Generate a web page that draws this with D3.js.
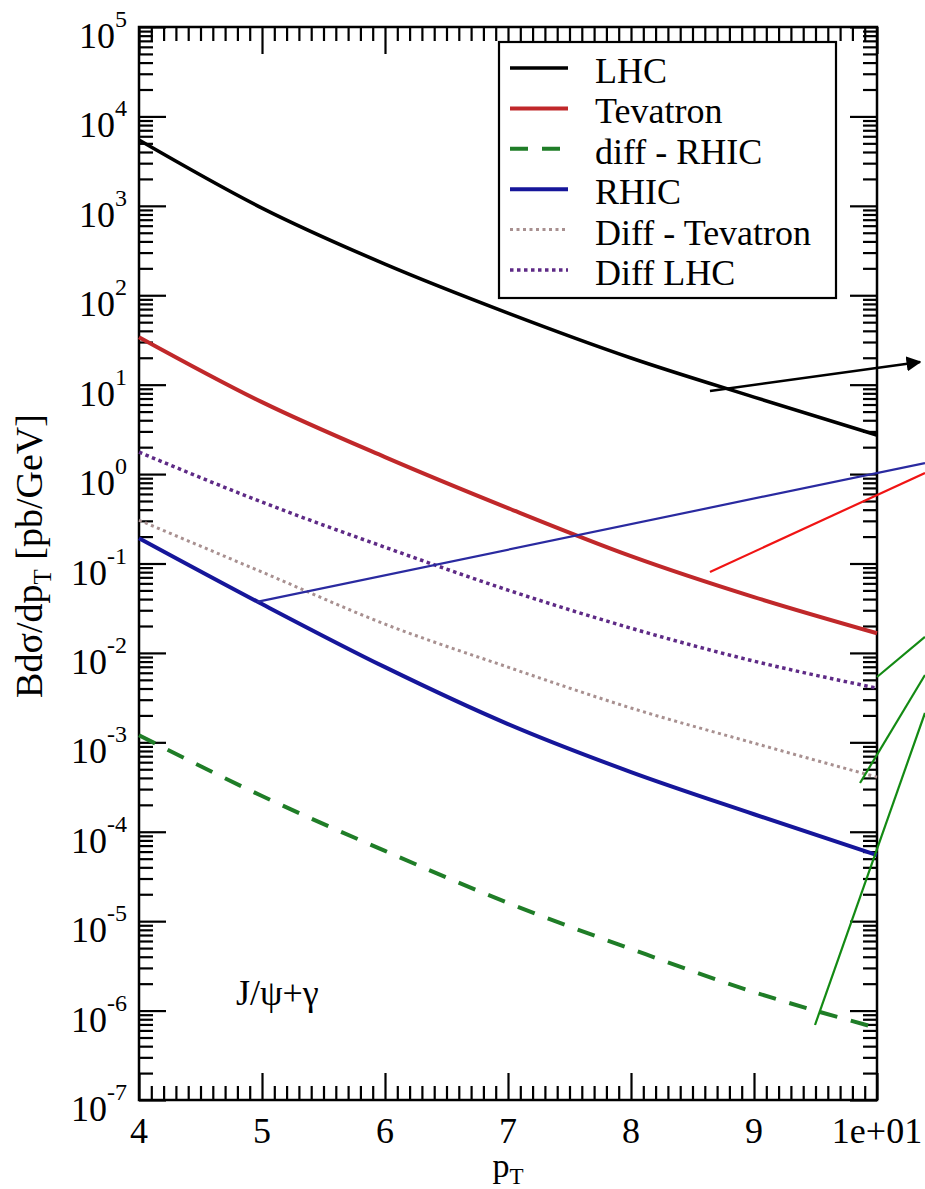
<!DOCTYPE html>
<html><head><meta charset="utf-8">
<script src="https://cdn.jsdelivr.net/npm/d3@7/dist/d3.min.js"></script>
<style>
html,body{margin:0;padding:0;background:#fff;}
</style></head>
<body>
<svg id="chart" width="925" height="1189"></svg>
<script>
// ---- data ----
const pT = [4, 5, 6, 7, 8, 9, 10];
const lhc      = [5445, 944, 223, 63.2, 19.9, 7.26, 2.73];
const tevatron = [34.0, 6.38, 1.55, 0.417, 0.121, 0.0421, 0.0166];
const diffRhic = [1.20e-3, 2.51e-4, 6.10e-5, 1.60e-5, 4.89e-6, 1.61e-6, 6.40e-7];
const rhic     = [0.192, 0.0352, 0.00693, 0.0016, 4.65e-4, 1.57e-4, 5.47e-5];
const diffTev  = [0.305, 0.0802, 0.0210, 0.00693, 0.00242, 9.8e-4, 4.08e-4];
const diffLhc  = [1.76, 0.486, 0.152, 0.0504, 0.0189, 0.00809, 0.00404];

const seriesNames = ["LHC", "Tevatron", "diff - RHIC", "RHIC", "Diff - Tevatron", "Diff LHC"];
const xTickValues = [4, 5, 6, 7, 8, 9, 10];
const xTickLabels = ["4", "5", "6", "7", "8", "9", "1e+01"];
const yExponents = [-7, -6, -5, -4, -3, -2, -1, 0, 1, 2, 3, 4, 5];

// annotation strokes drawn over the figure, in data coordinates [pT, value]
const arrowLine = [[8.642, 8.49], [10.35, 17.9]];
const blueLine  = [[4.959, 0.0372], [10.39, 1.33]];
const redLine   = [[8.642, 0.0803], [10.39, 1.03]];
const greenLines = [
  [[10.0, 0.00538], [10.39, 0.0151]],
  [[9.862, 3.51e-4], [10.39, 5.66e-3]],
  [[9.496, 6.9e-7], [10.39, 2.13e-3]]
];

// ---- styles ----
const FONT = '"Liberation Serif", "Times New Roman", Times, serif';
const styles = [
  {data: lhc,      color: "#000000", width: 3.6, dash: null},
  {data: tevatron, color: "#c0282a", width: 4,   dash: null},
  {data: diffRhic, color: "#1f7d27", width: 4,   dash: "18,14"},
  {data: rhic,     color: "#16169a", width: 4,   dash: null},
  {data: diffTev,  color: "#a89090", width: 3,   dash: "3,3.5"},
  {data: diffLhc,  color: "#5e2a86", width: 3.5, dash: "3.5,3.5"}
];

const svg = d3.select("#chart");
const L = 139, R = 877, T = 27, B = 1100;
const x = d3.scaleLinear().domain([4, 10]).range([L, R]);
const y = d3.scaleLog().domain([1e-7, 1e5]).range([B, T]);

const MAJ = 27, MIN = 14;
const xMinor = d3.range(40, 101).map(v => v / 10).filter(v => Math.abs(v - Math.round(v)) > 1e-9);
const yMinor = [];
yExponents.slice(0, -1).forEach(e => { for (let k = 2; k <= 9; k++) yMinor.push(k * Math.pow(10, e)); });
const yMajor = yExponents.map(e => Math.pow(10, e));

function axisStyle(g) {
  g.select(".domain").remove();
  g.selectAll("line").attr("stroke", "#000").attr("stroke-width", 2.2);
  g.selectAll("text").remove();
}
svg.append("g").attr("transform", `translate(0,${B})`).call(d3.axisBottom(x).tickValues(xTickValues).tickSize(-MAJ).tickFormat("")).call(axisStyle);
svg.append("g").attr("transform", `translate(0,${B})`).call(d3.axisBottom(x).tickValues(xMinor).tickSize(-MIN).tickFormat("")).call(axisStyle);
svg.append("g").attr("transform", `translate(0,${T})`).call(d3.axisTop(x).tickValues(xTickValues).tickSize(-MAJ).tickFormat("")).call(axisStyle);
svg.append("g").attr("transform", `translate(0,${T})`).call(d3.axisTop(x).tickValues(xMinor).tickSize(-MIN).tickFormat("")).call(axisStyle);
svg.append("g").attr("transform", `translate(${L},0)`).call(d3.axisLeft(y).tickValues(yMajor).tickSize(-MAJ).tickFormat("")).call(axisStyle);
svg.append("g").attr("transform", `translate(${L},0)`).call(d3.axisLeft(y).tickValues(yMinor).tickSize(-MIN).tickFormat("")).call(axisStyle);
svg.append("g").attr("transform", `translate(${R},0)`).call(d3.axisRight(y).tickValues(yMajor).tickSize(-MAJ).tickFormat("")).call(axisStyle);
svg.append("g").attr("transform", `translate(${R},0)`).call(d3.axisRight(y).tickValues(yMinor).tickSize(-MIN).tickFormat("")).call(axisStyle);

svg.append("rect").attr("x", L).attr("y", T).attr("width", R - L).attr("height", B - T)
  .attr("fill", "none").attr("stroke", "#000").attr("stroke-width", 2.5);

// x tick labels
svg.append("g").selectAll("text").data(xTickValues).join("text")
  .attr("x", d => x(d)).attr("y", B + 43)
  .attr("text-anchor", "middle").style("font-family", FONT).style("font-size", "36px")
  .text((d, i) => xTickLabels[i]);

// y tick labels 10^e
const yl = svg.append("g").selectAll("text").data(yExponents).join("text")
  .attr("x", L - 12).attr("y", d => y(Math.pow(10, d)) + 21)
  .attr("text-anchor", "end").style("font-family", FONT).style("font-size", "36px");
yl.append("tspan").text("10");
yl.append("tspan").style("font-size", "24px").attr("dy", -21).text(d => String(d));

// axis titles
const xt = svg.append("text").attr("x", (L + R) / 2).attr("y", 1177).attr("text-anchor", "middle")
  .style("font-family", FONT).style("font-size", "34px");
xt.append("tspan").text("p");
xt.append("tspan").style("font-size", "23px").attr("dy", 7).text("T");

const yt = svg.append("text").attr("transform", `translate(42,556) rotate(-90)`).attr("text-anchor", "middle")
  .style("font-family", FONT).style("font-size", "38px");
yt.append("tspan").text("Bdσ/dp");
yt.append("tspan").style("font-size", "25px").attr("dy", 9).text("T");
yt.append("tspan").attr("dy", -9).text(" [pb/GeV]");

// curves
const line = d3.line().x((d, i) => x(pT[i])).y(d => y(d)).curve(d3.curveMonotoneX);
svg.append("g").selectAll("path").data(styles).join("path")
  .attr("d", s => line(s.data))
  .attr("fill", "none").attr("stroke", s => s.color).attr("stroke-width", s => s.width)
  .attr("stroke-dasharray", s => s.dash).attr("stroke-linejoin", "round");

// legend
const lg = svg.append("g");
lg.append("rect").attr("x", 499).attr("y", 42).attr("width", 337).attr("height", 256)
  .attr("fill", "#fff").attr("stroke", "#000").attr("stroke-width", 2.2);
const rows = lg.selectAll("g").data(styles).join("g")
  .attr("transform", (d, i) => `translate(0,${68 + i * 40.4})`);
rows.append("line").attr("x1", 510).attr("x2", 568).attr("y1", 0).attr("y2", 0)
  .attr("stroke", s => s.color).attr("stroke-width", s => s.width).attr("stroke-dasharray", s => s.dash);
rows.append("text").attr("x", 595).attr("y", 15).style("font-family", FONT).style("font-size", "36px")
  .text((d, i) => seriesNames[i]);

// J/psi label
svg.append("text").attr("x", 236).attr("y", 1005).style("font-family", FONT).style("font-size", "36px").text("J/ψ+γ");

// annotation strokes
const seg = d3.line().x(d => x(d[0])).y(d => y(d[1]));
svg.append("defs").append("marker").attr("id", "arr").attr("viewBox", "0 0 10 10")
  .attr("refX", 9).attr("refY", 5).attr("markerWidth", 6).attr("markerHeight", 6)
  .attr("markerUnits", "strokeWidth").attr("orient", "auto")
  .append("path").attr("d", "M0,0 L10,5 L0,10 z").attr("fill", "#000");
svg.append("path").attr("d", seg(arrowLine)).attr("stroke", "#000").attr("stroke-width", 2.5)
  .attr("fill", "none").attr("marker-end", "url(#arr)");
svg.append("path").attr("d", seg(blueLine)).attr("stroke", "#2a2aa0").attr("stroke-width", 2.2).attr("fill", "none");
svg.append("path").attr("d", seg(redLine)).attr("stroke", "#f01414").attr("stroke-width", 2.2).attr("fill", "none");
svg.append("g").selectAll("path").data(greenLines).join("path")
  .attr("d", d => seg(d)).attr("stroke", "#138a13").attr("stroke-width", 2.2).attr("fill", "none");
</script>
</body></html>
